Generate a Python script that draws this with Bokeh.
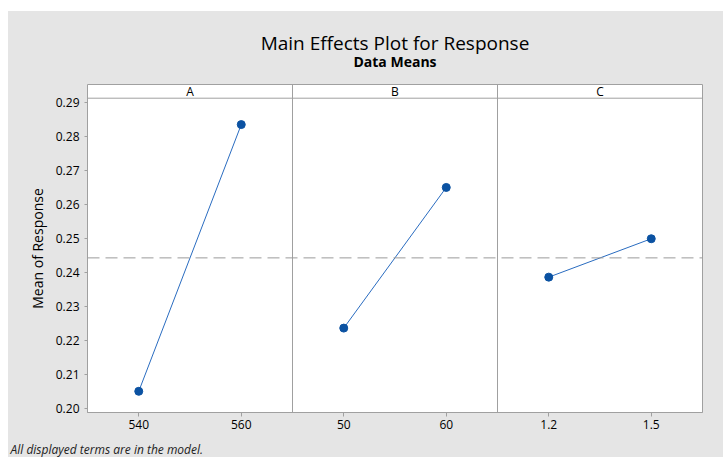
from bokeh.plotting import figure
from bokeh.models import Span, FixedTicker
from bokeh.layouts import column
from bokeh.core.properties import value
from bokeh.embed import file_html
from bokeh.resources import INLINE

# ---- data ----
factors = ["A", "B", "C"]
levels_A = ["540", "560"]
means_A = [0.2050, 0.2835]
levels_B = ["50", "60"]
means_B = [0.2236, 0.2650]
levels_C = ["1.2", "1.5"]
means_C = [0.2386, 0.2499]
y_ticks = [0.20, 0.21, 0.22, 0.23, 0.24, 0.25, 0.26, 0.27, 0.28, 0.29]
y_tick_labels = ["0.20", "0.21", "0.22", "0.23", "0.24", "0.25", "0.26", "0.27", "0.28", "0.29"]
title_text = "Main Effects Plot for Response"
subtitle_text = "Data Means"
footer_text = "All displayed terms are in the model."

levels = [levels_A, levels_B, levels_C]
means = [means_A, means_B, means_C]
all_means = means_A + means_B + means_C
grand_mean = sum(all_means) / len(all_means)

FONT = "Open Sans"
GRAY = "#a0a0a0"
BG = "#e5e5e5"
LINE = "#2a6cc0"
DOT = "#0b52a2"

y_lo, y_plot_top, y_hi = 0.19876, 0.29127, 0.29530
x_lo, x_hi = -0.5, 5.5

W = 715
ML, MR, MB = 79, 21, 28
H_TOP, H_MAIN, H_FOOT = 73, 356, 17
FW, FH = W - ML - MR, H_MAIN - MB


def panel_fig(h):
    f = figure(width=W, height=h, x_range=(0, W), y_range=(h, 0), output_backend="svg",
               toolbar_location=None, min_border=0, background_fill_color=BG,
               border_fill_color=BG, outline_line_color=None, title=None)
    f.frame_align = False
    f.axis.visible = False
    f.grid.visible = False
    f.styles = {"background-color": BG}
    return f


# ---- header (title + subtitle) ----
top = panel_fig(H_TOP)
top.margin = (11, 0, 0, 8)
cx = ML + FW / 2
top.text(x=[cx], y=[31], text=[title_text], text_align="center", text_baseline="middle",
         text_font=value(FONT), text_font_size="19px", text_color="#000000")
top.text(x=[cx], y=[50], text=[subtitle_text], text_align="center", text_baseline="middle",
         text_font=value(FONT), text_font_size="14px", text_font_style="bold",
         text_color="#000000")

# ---- main plot ----
p = figure(width=W, height=H_MAIN, x_range=(x_lo, x_hi), y_range=(y_lo, y_hi), title=None,
           output_backend="svg", toolbar_location=None,
           min_border_left=ML, min_border_right=MR, min_border_top=0, min_border_bottom=MB,
           background_fill_color="white", border_fill_color=BG,
           outline_line_color=GRAY, outline_line_width=1)
p.frame_align = False
p.margin = (0, 0, 0, 8)
p.styles = {"background-color": BG}
p.grid.visible = False

x_ticks = []
x_overrides = {}
for i, lv in enumerate(levels):
    for j, name in enumerate(lv):
        pos = 2 * i + j
        x_ticks.append(pos)
        x_overrides[pos] = name
p.xaxis.ticker = FixedTicker(ticks=x_ticks)
p.xaxis.major_label_overrides = x_overrides
p.yaxis.ticker = FixedTicker(ticks=y_ticks)
p.yaxis.major_label_overrides = {t: l for t, l in zip(y_ticks, y_tick_labels)}
p.yaxis.bounds = (y_lo, y_plot_top)

for ax in (p.xaxis[0], p.yaxis[0]):
    ax.axis_line_color = GRAY
    ax.major_tick_line_color = GRAY
    ax.minor_tick_line_color = None
    ax.major_tick_in = 0
    ax.major_tick_out = 3
    ax.major_label_text_font = FONT
    ax.major_label_text_font_size = "12px"
    ax.major_label_text_color = "#000000"
p.xaxis.major_tick_out = 4
p.xaxis.major_label_standoff = 3
p.yaxis.major_label_standoff = 5

p.yaxis.axis_label = "Mean of Response"
p.yaxis.axis_label_text_font = FONT
p.yaxis.axis_label_text_font_size = "14px"
p.yaxis.axis_label_text_font_style = "normal"
p.yaxis.axis_label_text_color = "#000000"
p.yaxis.axis_label_standoff = 6

# strip separator + panel dividers
p.add_layout(Span(location=y_plot_top, dimension="width", line_color=GRAY, line_width=1))
for i in range(len(factors) - 1):
    p.add_layout(Span(location=2 * i + 1.5, dimension="height", line_color=GRAY, line_width=1))

# grand mean reference
p.add_layout(Span(location=grand_mean, dimension="width", line_color="#9a9a9a",
                  line_width=1, line_dash="12 6"))

# strip labels
strip_y = (y_plot_top + y_hi) / 2
p.text(x=[2 * i + 0.5 for i in range(len(factors))], y=[strip_y] * len(factors), text=factors,
       text_align="center", text_baseline="middle", text_font=value(FONT),
       text_font_size="12px", text_color="#000000")

# main effects lines
for i, m in enumerate(means):
    xs = [2 * i + j for j in range(len(m))]
    p.line(xs, m, line_color=LINE, line_width=1)
    p.scatter(xs, m, size=8, fill_color=DOT, line_color=DOT, marker="circle")

# ---- footer ----
foot = panel_fig(H_FOOT)
foot.margin = (0, 0, 0, 8)
foot.text(x=[2], y=[9], text=[footer_text], text_align="left", text_baseline="middle",
          text_font=value(FONT), text_font_size="12px", text_font_style="italic",
          text_color="#222222")

layout = column(top, p, foot)
open("out.html", "w").write(file_html(layout, INLINE))
